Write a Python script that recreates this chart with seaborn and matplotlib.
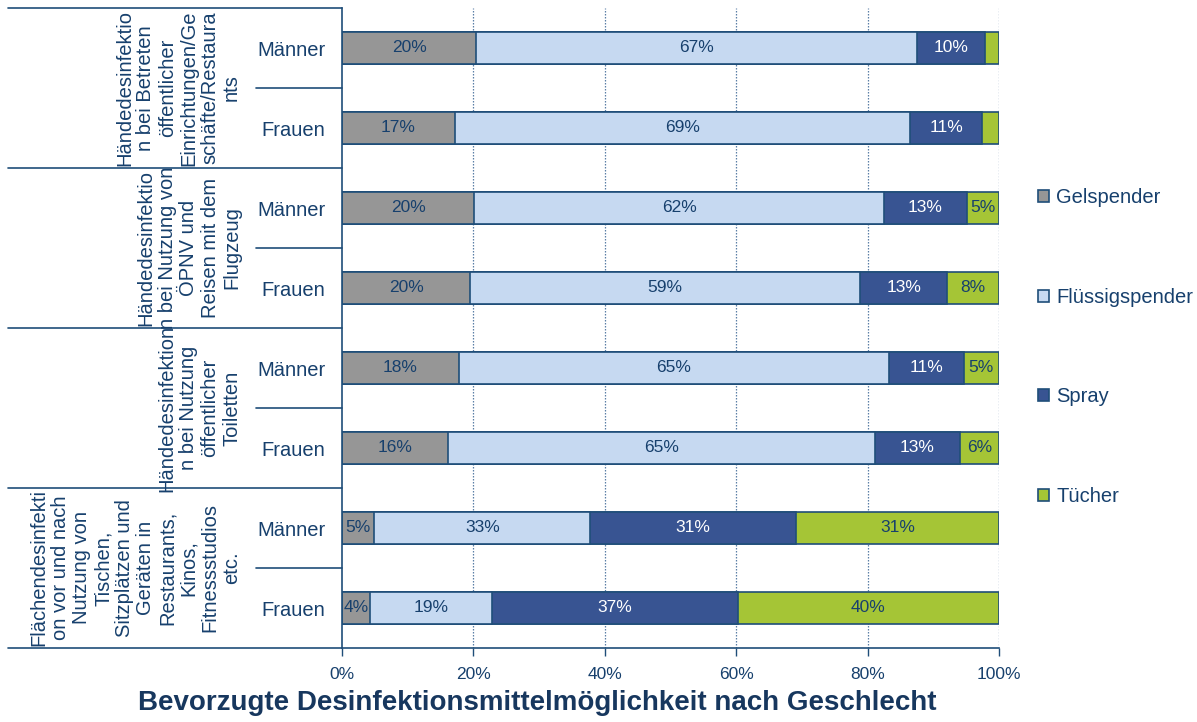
import matplotlib
matplotlib.use("Agg")
import matplotlib.pyplot as plt
import matplotlib.transforms as mtransforms
from matplotlib.patches import Patch
import seaborn as sns
import numpy as np
import pandas as pd

# ---------------- data ----------------
groups = [
    "Händedesinfektio\nn bei Betreten\nöffentlicher\nEinrichtungen/Ge\nschäfte/Restaura\nnts",
    "Händedesinfektio\nn bei Nutzung von\nÖPNV und\nReisen mit dem\nFlugzeug",
    "Händedesinfektion\nn bei Nutzung\nöffentlicher\nToiletten",
    "Flächendesinfekti\non vor und nach\nNutzung von\nTischen,\nSitzplätzen und\nGeräten in\nRestaurants,\nKinos,\nFitnessstudios\netc.",
]
genders = ["Männer", "Frauen"]
series = ["Gelspender", "Flüssigspender", "Spray", "Tücher"]

gelspender      = [20.4, 17.2, 20.1, 19.5, 17.8, 16.1, 4.9, 4.3]
fluessigspender = [67.1, 69.3, 62.4, 59.4, 65.4, 65.1, 32.9, 18.6]
spray           = [10.3, 10.9, 12.6, 13.2, 11.4, 12.8, 31.3, 37.3]
tuecher         = [2.2, 2.6, 4.9, 7.9, 5.4, 6.0, 30.9, 39.8]

x_ticks = [0, 20, 40, 60, 80, 100]
title = "Bevorzugte Desinfektionsmittelmöglichkeit nach Geschlecht"

# ---------------- style ----------------
navy = "#1F4E79"
text_col = "#17406D"
edge_col = "#1F4E79"
colors = ["#969696", "#C6D9F1", "#385492", "#A5C536"]
label_colors = [text_col, text_col, "white", text_col]

sns.set_theme(style="white")
plt.rcParams["font.family"] = ["Liberation Sans", "DejaVu Sans"]

row_ids = [f"r{i}" for i in range(len(gelspender))]
row_labels = [genders[i % 2] for i in range(len(gelspender))]
values = [gelspender, fluessigspender, spray, tuecher]
df = pd.DataFrame({"row": row_ids})
for name, vals in zip(series, values):
    df[name] = vals
cum = np.cumsum(np.array(values), axis=0)
for k, name in enumerate(series):
    df[name + "_cum"] = cum[k]

fig = plt.figure(figsize=(11.97, 7.22), dpi=100)
W, H = 1197, 722
ax_l, ax_r, ax_t, ax_b = 342, 999, 8, 648
ax = fig.add_axes([ax_l / W, 1 - ax_b / H, (ax_r - ax_l) / W, (ax_b - ax_t) / H])

# gridlines behind
ax.set_axisbelow(True)
for xv in x_ticks[1:]:
    ax.axvline(xv, color="#5B7FA6", lw=0.9, ls=(0, (1.2, 1.2)), zorder=0)

# stacked bars: draw cumulative totals from the largest to the smallest
for k in range(len(series) - 1, -1, -1):
    sns.barplot(data=df, y="row", x=series[k] + "_cum", order=row_ids,
                orient="h", color=colors[k], saturation=1, width=0.4,
                edgecolor=edge_col, linewidth=1.2, ax=ax, zorder=2)

# segment labels
for i in range(len(row_ids)):
    left = 0.0
    for k, name in enumerate(series):
        v = values[k][i]
        if round(v) >= 4:
            ax.text(left + v / 2, i, f"{round(v):.0f}%", ha="center", va="center",
                    fontsize=12.5, color=label_colors[k], zorder=5)
        left += v

ax.set_xlim(0, 100)
ax.set_ylim(len(row_ids) - 0.5, -0.5)
ax.set_xticks(x_ticks)
ax.set_xticklabels([f"{t}%" for t in x_ticks], fontsize=12.5, color=text_col)
ax.set_yticks(range(len(row_ids)))
ax.set_yticklabels(row_labels, fontsize=14.5, color=text_col)
ax.set_xlabel("")
ax.set_ylabel("")
ax.tick_params(axis="y", length=0, pad=12)
ax.tick_params(axis="x", length=6, width=1, color=navy, direction="out", pad=8, bottom=True)

for side in ["top", "right"]:
    ax.spines[side].set_visible(False)
ax.spines["left"].set_color(navy)
ax.spines["left"].set_linewidth(1.2)
ax.spines["bottom"].set_color(navy)
ax.spines["bottom"].set_linewidth(1.2)

# group and sub-row separators on the left
trans = mtransforms.blended_transform_factory(ax.transAxes, ax.transData)
x_group = (8 - ax_l) / (ax_r - ax_l)
x_sub = (256 - ax_l) / (ax_r - ax_l)
for g in range(len(groups) + 1):
    yv = 2 * g - 0.5
    ax.plot([x_group, 0], [yv, yv], transform=trans, color=navy, lw=1.2,
            clip_on=False, zorder=3)
for g in range(len(groups)):
    yv = 2 * g + 0.5
    ax.plot([x_sub, 0], [yv, yv], transform=trans, color=navy, lw=1.2,
            clip_on=False, zorder=3)

x_glab = (241 - ax_l) / (ax_r - ax_l)
for g, gl in enumerate(groups):
    ax.text(x_glab, 2 * g + 0.5, gl, transform=trans, rotation=90,
            ha="right", va="center", multialignment="center",
            fontsize=14.5, color=text_col, linespacing=1.16)

# legend
handles = [Patch(facecolor=c, edgecolor=edge_col, linewidth=1.2) for c in colors]
fig.legend(handles, series, loc="center left",
           bbox_to_anchor=(1038 / W, 1 - 347 / H), frameon=False,
           fontsize=14.5, labelcolor=text_col, handlelength=0.55, handleheight=0.55,
           handletextpad=0.35, labelspacing=4.0, borderpad=0, borderaxespad=0)

fig.text(537 / W, 1 - 703 / H, title, ha="center", va="center",
         fontsize=20, fontweight="bold", color="#17375E")

fig.savefig("out.png", dpi=100)
